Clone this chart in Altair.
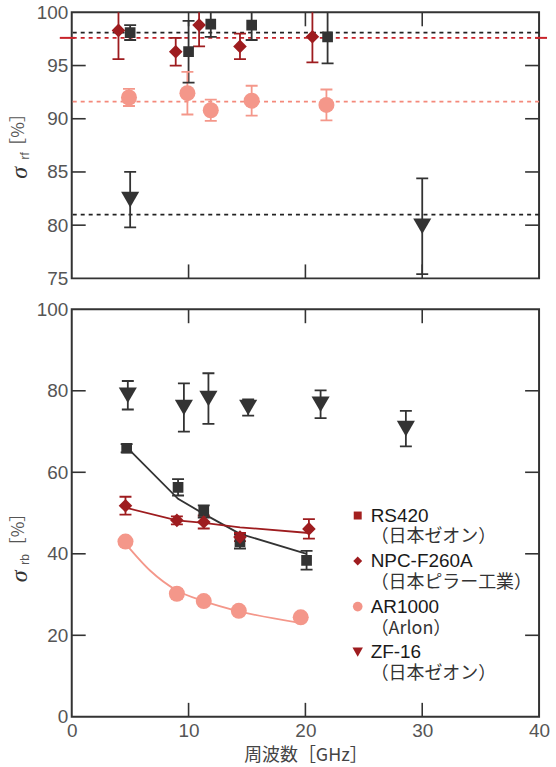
import altair as alt
import pandas as pd

SERIES = ["RS420", "NPC-F260A", "AR1000", "ZF-16"]
MAKERS = ["（日本ゼオン）", "（日本ピラー工業）", "（Arlon）", "（日本ゼオン）"]
FREQ_TICKS = [0, 10, 20, 30, 40]
FREQ_INNER = [10, 20, 30]

# ---- upper panel: sigma_rf [%] ----
rf_rs420_ghz = [5.0, 10.0, 11.9, 15.4, 21.9]
rf_rs420_val = [98.1, 96.3, 98.9, 98.8, 97.7]
rf_rs420_err = [0.7, 2.9, 1.2, 1.4, 2.5]

rf_npc_ghz = [4.0, 8.9, 10.9, 14.4, 20.6]
rf_npc_val = [98.3, 96.3, 98.8, 96.8, 97.7]
rf_npc_err = [2.7, 1.3, 2.0, 1.2, 2.4]

rf_ar_ghz = [4.9, 9.9, 11.9, 15.4, 21.8]
rf_ar_val = [92.0, 92.4, 90.8, 91.7, 91.3]
rf_ar_err = [0.8, 2.0, 1.0, 1.4, 1.45]

rf_zf_ghz = [5.0, 30.0]
rf_zf_val = [82.4, 79.9]
rf_zf_err = [2.6, 4.5]

# mean sigma_rf of each material (dashed lines)
rf_mean = [98.1, 97.6, 91.6, 81.0]
RF_TICKS = [75, 80, 85, 90, 95, 100]
RF_INNER = [80, 85, 90, 95]

# ---- lower panel: sigma_rb [%] ----
rb_rs420_ghz = [4.7, 9.1, 11.3, 14.4, 20.1]
rb_rs420_val = [65.9, 56.3, 50.4, 43.0, 38.4]
rb_rs420_err = [1.0, 2.0, 1.5, 1.7, 2.3]

rb_npc_ghz = [4.6, 9.0, 11.3, 14.4, 20.3]
rb_npc_val = [51.8, 48.2, 47.8, 44.1, 46.1]
rb_npc_err = [2.2, 1.0, 1.6, 1.0, 2.4]

rb_ar_ghz = [4.6, 9.0, 11.3, 14.3, 19.6]
rb_ar_val = [43.0, 30.2, 28.4, 26.0, 24.4]
rb_ar_err = [0.8, 1.2, 0.6, 0.5, 0.8]

rb_zf_ghz = [4.8, 9.6, 11.7, 15.1, 21.3, 28.6]
rb_zf_val = [78.9, 75.9, 78.1, 75.9, 76.7, 70.7]
rb_zf_err = [3.5, 5.9, 6.2, 2.0, 3.4, 4.35]

# model curves for sigma_rb
fit_rs420_ghz = [4.7, 9.1, 11.3, 14.4, 20.1]
fit_rs420_val = [66.2, 53.5, 49.8, 44.9, 40.0]
fit_npc_ghz = [4.6, 9.0, 11.3, 14.4, 20.3]
fit_npc_val = [51.3, 48.2, 47.6, 46.5, 45.1]
fit_ar_ghz = [4.6, 6.7, 9.0, 11.3, 14.3, 19.4]
fit_ar_val = [42.5, 35.9, 31.0, 28.4, 25.9, 23.1]
RB_TICKS = [0, 20, 40, 60, 80, 100]
RB_INNER = [20, 40, 60, 80]

# ---- styles ----
MARK_COLORS = ["#333333", "#9e1c1f", "#f4978a", "#333333"]
MEAN_COLORS = ["#222222", "#c8232a", "#f4897b", "#222222"]
KEY_COLORS = ["#a3201f", "#9e1c1f", "#f39488", "#9e1c1f"]
SHAPES = ["square", "diamond", "circle", "triangle-down"]
MARK_SIZES = [115, 330, 150, 170]
KEY_SIZES = [64, 110, 70, 80]

TICK_FONT = "Liberation Sans"
CJK_FONT = "Noto Sans CJK JP"
FRAME = "#333333"
W = 469
TICK_LEN = 14


def frame(ghz, val, err, name):
    return pd.DataFrame({
        "ghz": ghz,
        "val": val,
        "lo": [v - e for v, e in zip(val, err)],
        "hi": [v + e for v, e in zip(val, err)],
        "series": name,
    })


color_scale = alt.Scale(domain=SERIES, range=MARK_COLORS)
shape_scale = alt.Scale(domain=SERIES, range=SHAPES)
size_scale = alt.Scale(domain=SERIES, range=MARK_SIZES)
x_scale = alt.Scale(domain=[0, 40], nice=False, zero=False)


def label_axis(orient, values, **kw):
    return alt.Axis(
        orient=orient, values=values, domain=False, grid=False, ticks=False,
        labelFlush=False, labelFont=TICK_FONT, labelFontSize=19,
        labelColor="#555555", **kw)


def inward_ticks(x_vals, y_vals, y_scale, h):
    """Tick marks drawn inside the frame on all four sides."""
    xt = pd.DataFrame({"t": x_vals})
    yt = pd.DataFrame({"t": y_vals})
    style = dict(color=FRAME, strokeWidth=1.6)
    layers = []
    for y0, y1 in [(h - TICK_LEN, h), (0, TICK_LEN)]:
        layers.append(alt.Chart(xt).mark_rule(**style).encode(
            x=alt.X("t:Q", scale=x_scale, axis=None),
            y=alt.value(y0), y2=alt.value(y1)))
    for x0, x1 in [(0, TICK_LEN), (W - TICK_LEN, W)]:
        layers.append(alt.Chart(yt).mark_rule(**style).encode(
            y=alt.Y("t:Q", scale=y_scale, axis=None),
            x=alt.value(x0), x2=alt.value(x1)))
    return layers


def y_title(sub, pos):
    # italic sigma with a subscript, then the unit, rotated along the axis
    sy, uy, py = pos
    sig = alt.Chart(pd.DataFrame({"t": ["σ"]})).mark_text(
        angle=270, font="Liberation Serif", fontStyle="italic", fontSize=24,
        color="#333333", align="center", baseline="middle"
    ).encode(text="t:N", x=alt.value(-52), y=alt.value(sy))
    s = alt.Chart(pd.DataFrame({"t": [sub]})).mark_text(
        angle=270, font=TICK_FONT, fontSize=12, color="#555555",
        align="center", baseline="middle"
    ).encode(text="t:N", x=alt.value(-47), y=alt.value(uy))
    u = alt.Chart(pd.DataFrame({"t": ["［%］"]})).mark_text(
        angle=270, font=CJK_FONT, fontSize=17, color="#555555",
        align="center", baseline="middle"
    ).encode(text="t:N", x=alt.value(-53), y=alt.value(py))
    return [sig, s, u]


def data_layers(pts, y_scale, y_vals, x_axis, x_title):
    x_enc = alt.X("ghz:Q", scale=x_scale, title=x_title, axis=x_axis) if x_axis \
        else alt.X("ghz:Q", scale=x_scale, axis=None)
    bars = alt.Chart(pts).mark_rule(strokeWidth=1.8, clip=True).encode(
        x=x_enc,
        y=alt.Y("lo:Q", scale=y_scale, title=None,
                axis=label_axis("left", y_vals, labelPadding=4)),
        y2="hi:Q",
        color=alt.Color("series:N", scale=color_scale, legend=None),
    )
    caps = []
    for end in ["lo", "hi"]:
        caps.append(alt.Chart(pts).mark_tick(
            orient="horizontal", size=12, thickness=1.8, clip=True, opacity=1
        ).encode(
            x=alt.X("ghz:Q", scale=x_scale, axis=None),
            y=alt.Y(f"{end}:Q", scale=y_scale, axis=None),
            color=alt.Color("series:N", scale=color_scale, legend=None),
        ))
    dots = alt.Chart(pts).mark_point(filled=True, opacity=1, clip=True).encode(
        x=alt.X("ghz:Q", scale=x_scale, axis=None),
        y=alt.Y("val:Q", scale=y_scale, axis=None),
        color=alt.Color("series:N", scale=color_scale, legend=None),
        shape=alt.Shape("series:N", scale=shape_scale, legend=None),
        size=alt.Size("series:N", scale=size_scale, legend=None),
    )
    return bars, caps, dots


# ---------- upper panel ----------
H1 = 267
rf_pts = pd.concat([
    frame(rf_rs420_ghz, rf_rs420_val, rf_rs420_err, "RS420"),
    frame(rf_npc_ghz, rf_npc_val, rf_npc_err, "NPC-F260A"),
    frame(rf_ar_ghz, rf_ar_val, rf_ar_err, "AR1000"),
    frame(rf_zf_ghz, rf_zf_val, rf_zf_err, "ZF-16"),
], ignore_index=True)
rf_y = alt.Scale(domain=[75, 100], nice=False, zero=False)
mean_df = pd.DataFrame({"series": SERIES, "val": rf_mean})

mean_lines = alt.Chart(mean_df).mark_rule(strokeWidth=1.8, strokeDash=[4, 4]).encode(
    y=alt.Y("val:Q", scale=rf_y, axis=None),
    color=alt.Color("series:N", scale=alt.Scale(domain=SERIES, range=MEAN_COLORS), legend=None),
)
npc_mean = mean_df[mean_df["series"] == "NPC-F260A"]
mean_marks = [
    alt.Chart(npc_mean).mark_rule(strokeWidth=2, color="#c8232a", clip=False).encode(
        y=alt.Y("val:Q", scale=rf_y, axis=None), x=alt.value(-12), x2=alt.value(3)),
    alt.Chart(npc_mean).mark_rule(strokeWidth=2, color="#c8232a", clip=False).encode(
        y=alt.Y("val:Q", scale=rf_y, axis=None), x=alt.value(W - 4), x2=alt.value(W + 8)),
]

b1, c1, d1 = data_layers(rf_pts, rf_y, RF_TICKS, None, None)
upper = alt.layer(
    mean_lines, *mean_marks, b1, *c1, d1,
    *inward_ticks(FREQ_INNER, RF_INNER, rf_y, H1),
    *y_title("rf", (161, 144, 118))
).resolve_scale(color="independent").resolve_axis(
    x="independent", y="independent"
).properties(width=W, height=H1)

# ---------- lower panel ----------
H2 = 409
rb_pts = pd.concat([
    frame(rb_rs420_ghz, rb_rs420_val, rb_rs420_err, "RS420"),
    frame(rb_npc_ghz, rb_npc_val, rb_npc_err, "NPC-F260A"),
    frame(rb_ar_ghz, rb_ar_val, rb_ar_err, "AR1000"),
    frame(rb_zf_ghz, rb_zf_val, rb_zf_err, "ZF-16"),
], ignore_index=True)
rb_y = alt.Scale(domain=[0, 100], nice=False)

fit_lin = pd.concat([
    pd.DataFrame({"ghz": fit_rs420_ghz, "val": fit_rs420_val, "series": "RS420"}),
    pd.DataFrame({"ghz": fit_npc_ghz, "val": fit_npc_val, "series": "NPC-F260A"}),
], ignore_index=True)
fit_smooth = pd.DataFrame({"ghz": fit_ar_ghz, "val": fit_ar_val, "series": "AR1000"})


def fit_layer(df, interp):
    return alt.Chart(df).mark_line(strokeWidth=1.8, interpolate=interp).encode(
        x=alt.X("ghz:Q", scale=x_scale, axis=None),
        y=alt.Y("val:Q", scale=rb_y, axis=None),
        color=alt.Color("series:N", scale=color_scale, legend=None),
        detail="series:N",
    )


# key: symbol, material name and maker for each series
key_df = pd.DataFrame({"series": SERIES, "maker": MAKERS, "idx": list(range(len(SERIES)))})
key_base = alt.Chart(key_df).transform_calculate(
    py="207 + datum.idx * 45.7", py2="229 + datum.idx * 45.7")
key_sym = key_base.mark_point(filled=True, opacity=1).encode(
    x=alt.value(287),
    y=alt.Y("py:Q", scale=None, axis=None),
    shape=alt.Shape("series:N", scale=shape_scale, legend=None),
    color=alt.Color("series:N", scale=alt.Scale(domain=SERIES, range=KEY_COLORS), legend=None),
    size=alt.Size("series:N", scale=alt.Scale(domain=SERIES, range=KEY_SIZES), legend=None),
)
key_name = key_base.mark_text(
    align="left", baseline="middle", font=TICK_FONT, fontSize=19, color="#1a1a1a"
).encode(x=alt.value(300), y=alt.Y("py:Q", scale=None, axis=None), text="series:N")
key_maker = key_base.mark_text(
    align="left", baseline="middle", font=CJK_FONT, fontSize=18, color="#333333"
).encode(x=alt.value(300), y=alt.Y("py2:Q", scale=None, axis=None), text="maker:N")

x_axis = label_axis("bottom", FREQ_TICKS, labelPadding=5, titleFont=CJK_FONT,
                    titleFontSize=18, titleColor="#444444",
                    titleFontWeight="normal", titlePadding=6)
b2, c2, d2 = data_layers(rb_pts, rb_y, RB_TICKS, x_axis, "周波数［GHz］")
lower = alt.layer(
    fit_layer(fit_lin, "linear"), fit_layer(fit_smooth, "monotone"),
    b2, *c2, d2,
    *inward_ticks(FREQ_INNER, RB_INNER, rb_y, H2),
    key_sym, key_name, key_maker, *y_title("rb", (268, 251, 221))
).resolve_scale(color="independent", shape="independent", size="independent").resolve_axis(
    x="independent", y="independent"
).properties(width=W, height=H2)

chart = alt.vconcat(upper, lower, spacing=10).properties(
    padding={"left": 7, "top": 1, "right": 5, "bottom": 0},
    background="white",
).configure_view(stroke=FRAME, strokeWidth=2)

chart.save("out.html", embed_options={"renderer": "svg", "actions": False})
